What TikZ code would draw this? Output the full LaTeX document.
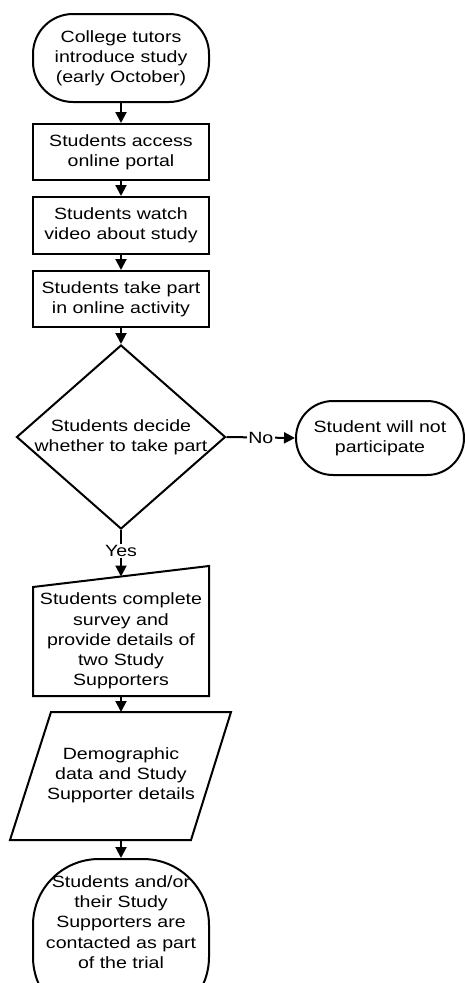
\documentclass[tikz,border=0pt]{standalone}
\usepackage{fontspec}
\setmainfont{Liberation Sans}[FakeStretch=1.2]
\usetikzlibrary{shapes.geometric,arrows.meta}
\begin{document}
\begin{tikzpicture}[x=1pt,y=-1pt,line width=2pt,
  txt/.style={align=center,font=\fontsize{16.3}{20.2}\selectfont,inner sep=0pt},
  proc/.style={draw,txt,minimum width=176pt,minimum height=56pt},
  term/.style={draw,txt,minimum width=176pt},
  arr/.style={-{Triangle[length=11pt,width=11pt]}},
  lbl/.style={fill=white,txt,inner sep=1.5pt}]
\useasboundingbox (0,0) rectangle (464,983);

\node[term,minimum height=88pt,rounded corners=40pt] (start) at (121,58) {College tutors\\introduce study\\(early October)};
\node[proc] (b1) at (121,152) {Students access\\online portal};
\node[proc,minimum height=57pt] (b2) at (121,225.5) {Students watch\\video about study};
\node[proc] (b3) at (121,299) {Students take part\\in online activity};

\node[diamond,draw,minimum width=209pt,minimum height=184pt,inner sep=0pt] (dec) at (121,437) {};
\node[txt] (dectxt) at (121,437) {Students decide\\whether to take part};

\node[draw,txt,minimum width=168pt,minimum height=74pt,rounded corners=37pt] (nop) at (380,438) {Student will not\\participate};

% manual input shape
\coordinate (mtl) at (33,587);
\coordinate (mtr) at (209,566);
\coordinate (mbr) at (209,696);
\coordinate (mbl) at (33,696);
\coordinate (mtop) at (121,576.5);
\coordinate (mbot) at (121,696);
\draw (mtl) -- (mtr) -- (mbr) -- (mbl) -- cycle;
\node[txt] (survey) at (121,641) {Students complete\\survey and\\provide details of\\two Study\\Supporters};

% data parallelogram
\coordinate (ptl) at (51,712);
\coordinate (ptr) at (231,712);
\coordinate (pbr) at (191,840);
\coordinate (pbl) at (10,840);
\coordinate (ptop) at (121,712);
\coordinate (pbot) at (121,840);
\draw (ptl) -- (ptr) -- (pbr) -- (pbl) -- cycle;
\node[txt] (demo) at (121,775) {Demographic\\data and Study\\Supporter details};

\node[term,minimum height=164pt,rounded corners=66pt,anchor=north] (end) at (121,858) {};
\node[txt] (endtxt) at (121,922) {Students and/or\\their Study\\Supporters are\\contacted as part\\of the trial};

\draw[arr] (start.south) -- (b1.north);
\draw[arr] (b1.south) -- (b2.north);
\draw[arr] (b2.south) -- (b3.north);
\draw[arr] (b3.south) -- (dec.north);
\draw[arr] (dec.east) -- node[lbl] {No} (nop.west);
\draw[arr] (dec.south) -- node[lbl,pos=0.45] {Yes} (mtop);
\draw[arr] (mbot) -- (ptop);
\draw[arr] (pbot) -- (end.north);
\end{tikzpicture}
\end{document}
